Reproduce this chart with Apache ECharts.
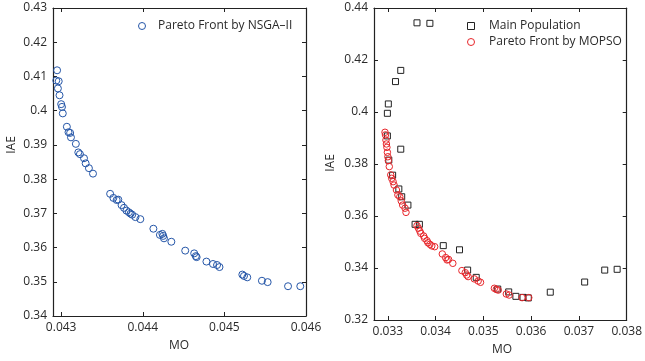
<!DOCTYPE html>
<html>
<head>
<meta charset="utf-8">
<script src="https://cdn.jsdelivr.net/npm/echarts@6/dist/echarts.min.js"></script>
<style>
html,body{margin:0;padding:0;background:#fff;}
#c{width:645px;height:361px;}
</style>
</head>
<body>
<div id="c"></div>
<script>
// ---- Data ----
const nsgaMO = [0.04295,0.04294,0.04297,0.04296,0.04298,0.04300,0.04301,0.04302,0.04307,0.04309,
  0.04311,0.04312,0.04318,0.04321,0.04323,0.04328,0.04330,0.04334,0.04339,0.04360,
  0.04364,0.04368,0.04370,0.04374,0.04377,0.04380,0.04383,0.04385,0.04387,0.04391,
  0.04397,0.04413,0.04421,0.04424,0.04425,0.04426,0.04435,0.04452,0.04463,0.04465,
  0.04466,0.04478,0.04486,0.04491,0.04494,0.04522,0.04524,0.04528,0.04546,0.04553,
  0.04578,0.04593];
const nsgaIAE = [0.4118,0.4088,0.4086,0.4065,0.4045,0.4019,0.4011,0.3992,0.3953,0.3937,
  0.3935,0.3922,0.3903,0.3878,0.3873,0.3861,0.3846,0.3832,0.3816,0.3757,
  0.3745,0.3739,0.3740,0.3724,0.3716,0.3708,0.3703,0.3699,0.3696,0.3689,
  0.3683,0.3655,0.3637,0.3640,0.3634,0.3627,0.3617,0.3591,0.3583,0.3575,
  0.3572,0.3559,0.3552,0.3549,0.3543,0.3521,0.3517,0.3513,0.3503,0.3499,
  0.3487,0.3487];

const popMO = [0.03361,0.03388,0.03327,0.03316,0.03301,0.03299,0.03299,0.03327,0.03302,0.03310,
  0.03323,0.03329,0.03342,0.03357,0.03366,0.03416,0.03450,0.03467,0.03485,0.03530,
  0.03553,0.03568,0.03583,0.03594,0.03640,0.03712,0.03754,0.03780];
const popIAE = [0.4343,0.4341,0.4160,0.4117,0.4031,0.3995,0.3908,0.3857,0.3815,0.3757,
  0.3704,0.3674,0.3642,0.3568,0.3568,0.3486,0.3470,0.3392,0.3364,0.3319,
  0.3308,0.3291,0.3287,0.3285,0.3307,0.3346,0.3392,0.3395];

const mopsoMO = [0.03294,0.03295,0.03296,0.03297,0.03298,0.03299,0.03300,0.03301,0.03303,0.03306,
  0.03308,0.03311,0.03313,0.03318,0.03321,0.03325,0.03328,0.03331,0.03336,0.03338,
  0.03361,0.03364,0.03367,0.03369,0.03375,0.03377,0.03382,0.03384,0.03388,0.03392,
  0.03398,0.03414,0.03421,0.03424,0.03427,0.03436,0.03455,0.03462,0.03465,0.03468,
  0.03481,0.03489,0.03494,0.03523,0.03527,0.03531,0.03548,0.03554,0.03581,0.03595];
const mopsoIAE = [0.3922,0.3912,0.3892,0.3877,0.3864,0.3845,0.3828,0.3813,0.3790,0.3758,
  0.3745,0.3732,0.3719,0.3700,0.3681,0.3674,0.3658,0.3642,0.3630,0.3614,
  0.3563,0.3553,0.3542,0.3533,0.3523,0.3514,0.3505,0.3497,0.3491,0.3485,
  0.3482,0.3454,0.3440,0.3431,0.3433,0.3418,0.3390,0.3382,0.3373,0.3367,
  0.3358,0.3350,0.3345,0.3322,0.3318,0.3315,0.3300,0.3296,0.3286,0.3286];

const leftXTicks = [0.043,0.044,0.045,0.046];
const leftYTicks = [0.34,0.35,0.36,0.37,0.38,0.39,0.4,0.41,0.42,0.43];
const rightXTicks = [0.033,0.034,0.035,0.036,0.037,0.038];
const rightYTicks = [0.32,0.34,0.36,0.38,0.4,0.42,0.44];

const names = {nsga:'Pareto Front by NSGA\u2013II', pop:'Main Population', mopso:'Pareto Front by MOPSO'};

// ---- Styling ----
const FONT = '"Open Sans", "Liberation Sans", sans-serif';
const TXT = '#2a2a2a';
const AX = '#222';
const BLUE = '#2556a8';
const RED = '#e8262b';
const BLACK = '#222';
const SQUARE = 'path://M0,0L10,0L10,10L0,10Z';

function zip(a,b){ return a.map((v,i)=>[v,b[i]]); }

function axis(grid, pos, min, max, ticks, showLabel){
  return {
    type:'value', gridIndex:grid, position:pos, min:min, max:max,
    axisLine:{show:true, onZero:false, lineStyle:{color:AX, width:1.2}},
    axisTick:{show:true, inside:true, length:4, customValues:ticks, lineStyle:{color:AX, width:1}},
    axisLabel:{show:showLabel, customValues:ticks, margin:6, color:TXT, fontSize:12, fontFamily:FONT},
    splitLine:{show:false}
  };
}

const chart = echarts.init(document.getElementById('c'), null, {renderer:'canvas'});
chart.setOption({
  animation:false,
  backgroundColor:'#fff',
  textStyle:{fontFamily:FONT},
  grid:[
    {left:53, top:8, width:253, height:308},
    {left:374, top:8, width:258, height:312}
  ],
  xAxis:[
    axis(0,'bottom',0.0429,0.046,leftXTicks,true),
    axis(0,'top',0.0429,0.046,leftXTicks,false),
    axis(1,'bottom',0.03271,0.038,rightXTicks,true),
    axis(1,'top',0.03271,0.038,rightXTicks,false)
  ],
  yAxis:[
    axis(0,'left',0.34,0.43,leftYTicks,true),
    axis(0,'right',0.34,0.43,leftYTicks,false),
    axis(1,'left',0.32,0.44,rightYTicks,true),
    axis(1,'right',0.32,0.44,rightYTicks,false)
  ],
  legend:[
    {
      left:138, top:20, padding:0, itemWidth:22, itemHeight:7, selectedMode:false, symbolKeepAspect:true,
      textStyle:{color:TXT, fontSize:12, fontFamily:FONT},
      data:[{name:names.nsga, icon:'circle', itemStyle:{color:'transparent', borderColor:BLUE, borderWidth:1}}]
    },
    {
      left:467, top:20, padding:0, orient:'vertical', itemGap:4, itemWidth:26, itemHeight:7, selectedMode:false, symbolKeepAspect:true,
      textStyle:{color:TXT, fontSize:12, fontFamily:FONT},
      data:[
        {name:names.pop, icon:SQUARE, itemStyle:{color:'transparent', borderColor:BLACK, borderWidth:1}},
        {name:names.mopso, icon:'circle', itemStyle:{color:'transparent', borderColor:RED, borderWidth:1}}
      ]
    }
  ],
  graphic:[
    {type:'text', x:179, y:346, style:{text:'MO', fill:TXT, font:'12px '+FONT, align:'center', verticalAlign:'middle'}},
    {type:'text', x:502, y:350, style:{text:'MO', fill:TXT, font:'12px '+FONT, align:'center', verticalAlign:'middle'}},
    {type:'text', rotation:Math.PI/2, x:12, y:145, style:{text:'IAE', fill:TXT, font:'12px '+FONT, align:'center', verticalAlign:'middle'}},
    {type:'text', rotation:Math.PI/2, x:331, y:163, style:{text:'IAE', fill:TXT, font:'12px '+FONT, align:'center', verticalAlign:'middle'}}
  ],
  series:[
    {
      name:names.nsga, type:'scatter', xAxisIndex:0, yAxisIndex:0,
      symbol:'circle', symbolSize:7,
      itemStyle:{color:'transparent', borderColor:BLUE, borderWidth:1, opacity:1},
      emphasis:{disabled:true},
      data:zip(nsgaMO, nsgaIAE)
    },
    {
      name:names.pop, type:'scatter', xAxisIndex:2, yAxisIndex:2,
      symbol:'rect', symbolSize:6,
      itemStyle:{color:'transparent', borderColor:BLACK, borderWidth:1, opacity:1},
      emphasis:{disabled:true},
      data:zip(popMO, popIAE)
    },
    {
      name:names.mopso, type:'scatter', xAxisIndex:2, yAxisIndex:2,
      symbol:'circle', symbolSize:6.5,
      itemStyle:{color:'transparent', borderColor:RED, borderWidth:1, opacity:1},
      emphasis:{disabled:true},
      data:zip(mopsoMO, mopsoIAE)
    }
  ]
});
</script>
</body>
</html>
